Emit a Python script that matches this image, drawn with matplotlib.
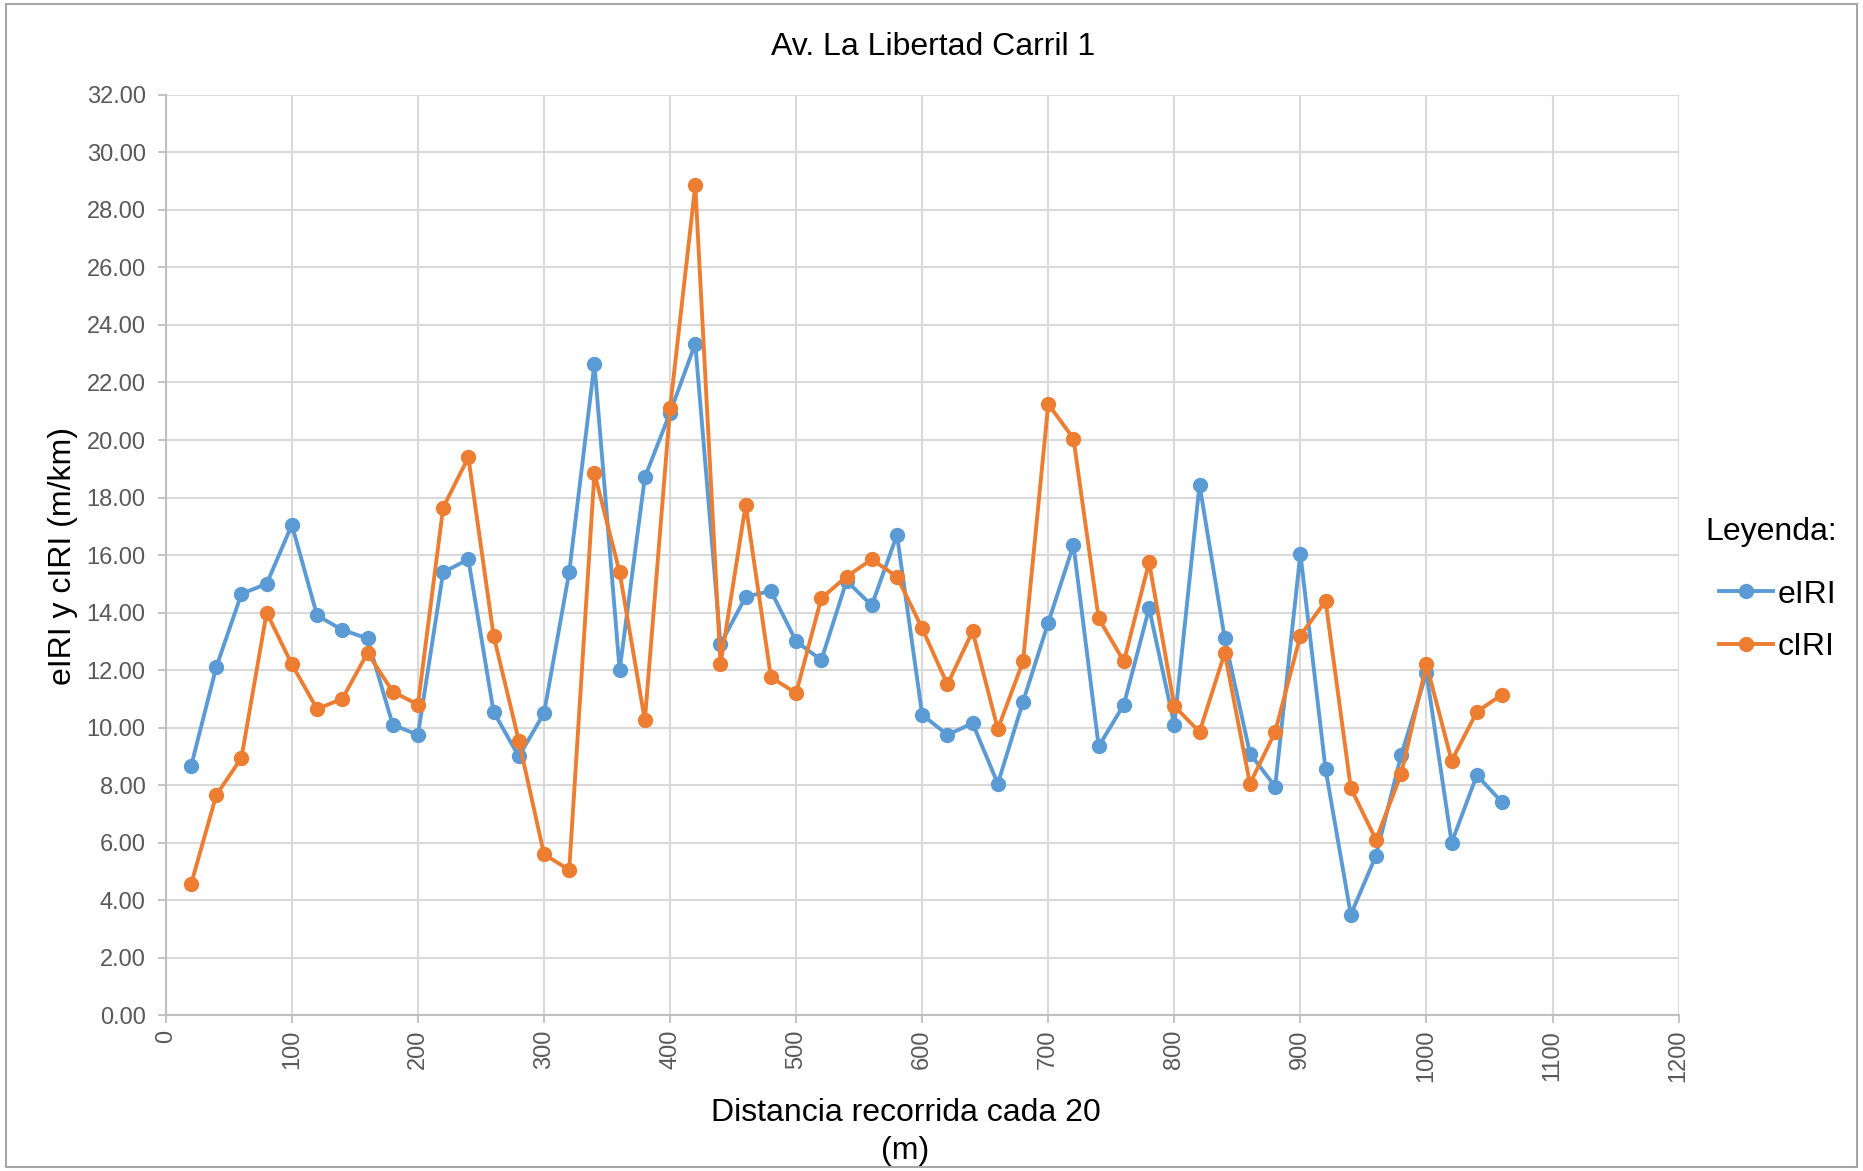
import matplotlib
matplotlib.use("Agg")
import matplotlib.pyplot as plt
from matplotlib.patches import Rectangle

plt.rcParams['font.family'] = ['Liberation Sans', 'DejaVu Sans']

distance = list(range(20, 1061, 20))
eIRI = [8.65, 12.1, 14.65, 15.0, 17.05, 13.9, 13.4, 13.1, 10.1, 9.75,
        15.4, 15.85, 10.55, 9.0, 10.5, 15.4, 22.65, 12.0, 18.7, 20.95,
        23.35, 12.9, 14.55, 14.75, 13.0, 12.35, 15.1, 14.25, 16.7, 10.45,
        9.75, 10.15, 8.05, 10.9, 13.65, 16.35, 9.35, 10.8, 14.15, 10.1,
        18.45, 13.1, 9.1, 7.95, 16.05, 8.55, 3.5, 5.55, 9.05, 11.9,
        6.0, 8.35, 7.4]
cIRI = [4.55, 7.65, 8.95, 14.0, 12.2, 10.65, 11.0, 12.6, 11.25, 10.8,
        17.65, 19.4, 13.2, 9.55, 5.6, 5.05, 18.85, 15.4, 10.25, 21.1,
        28.85, 12.2, 17.75, 11.75, 11.2, 14.5, 15.25, 15.85, 15.25, 13.45,
        11.5, 13.35, 9.95, 12.3, 21.25, 20.05, 13.8, 12.3, 15.75, 10.75,
        9.85, 12.6, 8.05, 9.85, 13.2, 14.4, 7.9, 6.1, 8.4, 12.2,
        8.85, 10.55, 11.15]
x_ticks = list(range(0, 1201, 100))
y_ticks = [i * 2 for i in range(17)]

title = "Av. La Libertad Carril 1"
xlabel_lines = ["Distancia recorrida cada 20", "(m)"]
ylabel = "eIRI y cIRI (m/km)"
legend_title = "Leyenda:"

blue = "#5B9BD5"
orange = "#ED7D31"
tick_color = "#595959"
grid_color = "#D9D9D9"
axis_color = "#BFBFBF"

fig = plt.figure(figsize=(18.63, 11.71), dpi=100)
ax = fig.add_axes([0.089, 0.133, 0.812, 0.786])

ax.plot(distance, eIRI, color=blue, lw=2.8, marker='o', ms=10, label='eIRI', zorder=3)
ax.plot(distance, cIRI, color=orange, lw=2.8, marker='o', ms=10, label='cIRI', zorder=4)

ax.set_xlim(0, 1200)
ax.set_ylim(0, 32)
ax.set_xticks(x_ticks)
ax.set_yticks(y_ticks)
ax.set_yticklabels([f"{v:.2f}" for v in y_ticks])
ax.set_xticklabels([str(v) for v in x_ticks], rotation=90)
ax.tick_params(axis='both', colors=tick_color, labelsize=17, length=5.5, width=1.3, color=axis_color)
ax.tick_params(axis='y', pad=9)
ax.tick_params(axis='x', pad=5)
ax.grid(True, color=grid_color, lw=1.5)
ax.set_axisbelow(True)
for s in ['top', 'right']:
    ax.spines[s].set_visible(False)
for s in ['left', 'bottom']:
    ax.spines[s].set_color(axis_color)
    ax.spines[s].set_linewidth(1.5)

fig.text(0.501, 0.960, title, fontsize=23, ha='center', va='center', color='#000000')
fig.text(0.486, 0.0495, xlabel_lines[0], fontsize=23, ha='center', va='center')
fig.text(0.486, 0.0175, xlabel_lines[1], fontsize=23, ha='center', va='center')
fig.text(0.034, 0.525, ylabel, fontsize=23, rotation=90, ha='center', va='center')
fig.text(0.9155, 0.5455, legend_title, fontsize=23, ha='left', va='center')

leg = ax.legend(loc='upper left', bbox_to_anchor=(0.9225, 0.505), bbox_transform=fig.transFigure,
                frameon=False, fontsize=23, borderaxespad=0, borderpad=0,
                handlelength=1.7, handletextpad=0.15, labelspacing=0.7)

fig.patches.append(Rectangle((0.003, 0.003), 0.994, 0.994, transform=fig.transFigure,
                             fill=False, edgecolor='#A6A6A6', lw=1.5))

fig.savefig("out.png", dpi=100)
